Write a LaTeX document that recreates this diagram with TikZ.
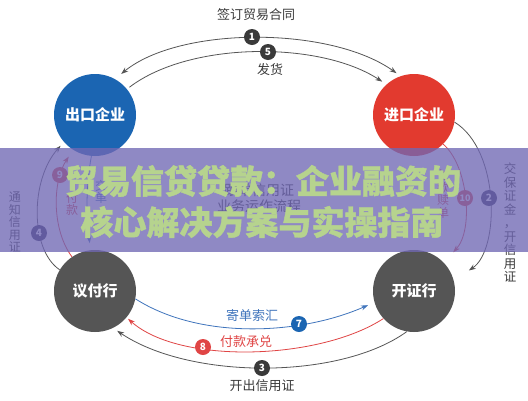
\documentclass[tikz,border=0pt]{standalone}
\usepackage{fontspec}
\setmainfont{Noto Sans CJK SC}
\newfontfamily\titlefont{Noto Sans CJK SC}[BoldFeatures={FakeBold=1.2}]
\usetikzlibrary{arrows.meta}
\definecolor{cblue}{HTML}{1B65B2}
\definecolor{cred}{HTML}{E23A2F}
\definecolor{cgray}{HTML}{555555}
\definecolor{cdark}{HTML}{3A3A3A}
\definecolor{lblue}{HTML}{3F74BC}
\definecolor{lred}{HTML}{E04545}
\definecolor{lgray}{HTML}{555555}
\definecolor{bandc}{RGB}{112,104,180}
\definecolor{titlec}{HTML}{B6D38E}
\begin{document}
\begin{tikzpicture}[x=1pt,y=-1pt,
  ent/.style={circle, minimum size=82pt, inner sep=0pt, text=white, font=\bfseries\fontsize{15}{15}\selectfont},
  badge/.style={circle, minimum size=16pt, inner sep=0pt, text=white, font=\bfseries\fontsize{10}{10}\selectfont},
  conn/.style={line width=0.8pt},
  tip/.style={-{Stealth[length=7pt,width=5pt]}},
  lbl/.style={font=\fontsize{13}{13}\selectfont, inner sep=0pt},
  vlbl/.style={align=center, inner sep=0pt, font=\fontsize{12}{12.5}\selectfont},
  ttl/.style={inner sep=0pt, text=titlec, font=\titlefont\bfseries\fontsize{33}{33}\selectfont}
]
\useasboundingbox (0,0) rectangle (528,400);
\fill[white] (0,0) rectangle (528,400);

% main entities
\node[ent, fill=cblue] (ck) at (95,115) {出口企业};
\node[ent, fill=cred]  (jk) at (414,115) {进口企业};
\node[ent, fill=cgray] (yf) at (95,291) {议付行};
\node[ent, fill=cgray] (kz) at (414,291) {开证行};

% top arcs
\draw[conn, lgray, {Stealth[length=7pt,width=5pt]}-{Stealth[length=7pt,width=5pt]}, shorten <=8pt, shorten >=5pt]
  (ck.61) .. controls (180,26) and (330,26) .. (jk.109);
\draw[conn, lgray, tip, shorten <=3pt, shorten >=5pt]
  (ck.39) .. controls (190,41) and (320,41) .. (jk.132);
% right arcs
\draw[conn, lgray, tip, shorten >=18pt]
  (jk.-10) .. controls (500,150) and (500,250) .. (kz.15);
\draw[conn, lred, tip, shorten >=14pt]
  (jk.-45) .. controls (468,165) and (474,230) .. (kz.44);
% left arcs
\draw[conn, lgray, tip, shorten >=5pt]
  (yf.149) .. controls (30,250) and (30,180) .. (ck.221);
\draw[conn, lred, tip, shorten >=8pt]
  (yf.124) .. controls (52,230) and (52,182) .. (ck.238);
\draw[conn, lblue, tip, shorten >=7pt]
  (ck.-95) .. controls (86,185) and (86,215) .. (yf.96);
% bottom arcs
\draw[conn, lblue, tip, shorten >=7pt]
  (yf.-11) .. controls (200,340) and (300,335) .. (kz.196);
\draw[conn, lred, tip, shorten >=2pt]
  (kz.222) .. controls (320,360) and (180,365) .. (yf.-40);
\draw[conn, lgray, tip, shorten >=5pt]
  (kz.260) .. controls (340,380) and (190,380) .. (yf.-64);

% badges
\node[badge, fill=cdark] (b1) at (252,37) {1};
\node[badge, fill=cdark] (b5) at (268,52) {5};
\node[badge, fill=cdark!85!blue] (b2) at (489,198) {2};
\node[badge, fill=lred] (b10) at (465,198) {\fontsize{9}{9}\selectfont 10};
\node[badge, fill=cdark!85!blue] (b4) at (39,233) {4};
\node[badge, fill=lred] (b9) at (60,175) {9};
\node[badge, fill=cblue] (b7) at (299,324) {7};
\node[badge, fill=lred] (b8) at (203,347) {8};
\node[badge, fill=cdark] (b3) at (262,368) {3};

% labels
\node[lbl, text=cdark] (l1) at (256,15) {签订贸易合同};
\node[lbl, text=cdark] (l5) at (270,70) {发货};
\node[lbl, text=lblue] (l7) at (252,316) {寄单索汇};
\node[lbl, text=lred]  (l8) at (246,342) {付款承兑};
\node[lbl, text=cdark] (l3) at (262,386) {开出信用证};
\node[vlbl, text=cdark] (l4) at (15,222) {通\\知\\信\\用\\证};
\node[vlbl, text=cdark, font=\fontsize{12.5}{13.5}\selectfont] (l2) at (510,223) {交\\保\\证\\金\\，\\开\\信\\用\\证};
\node[vlbl, text=lred] (l9) at (72,204) {付\\款};
\node[vlbl, text=lblue] (l6) at (101,192) {交\\单};
\node[vlbl, text=lred] (l10) at (443,194) {付\\款\\赎\\单};
\node[align=center, inner sep=0pt, text=cdark, font=\fontsize{14}{16}\selectfont] (ct) at (259,198) {跟单信用证\\业务运作流程};

% overlay band and title
\fill[bandc, opacity=0.78] (0,148) rectangle (528,252);
\node[ttl] (t1) at (263,181) {贸易信贷贷款：企业融资的};
\node[ttl] (t2) at (262,222) {核心解决方案与实操指南};
\end{tikzpicture}
\end{document}
